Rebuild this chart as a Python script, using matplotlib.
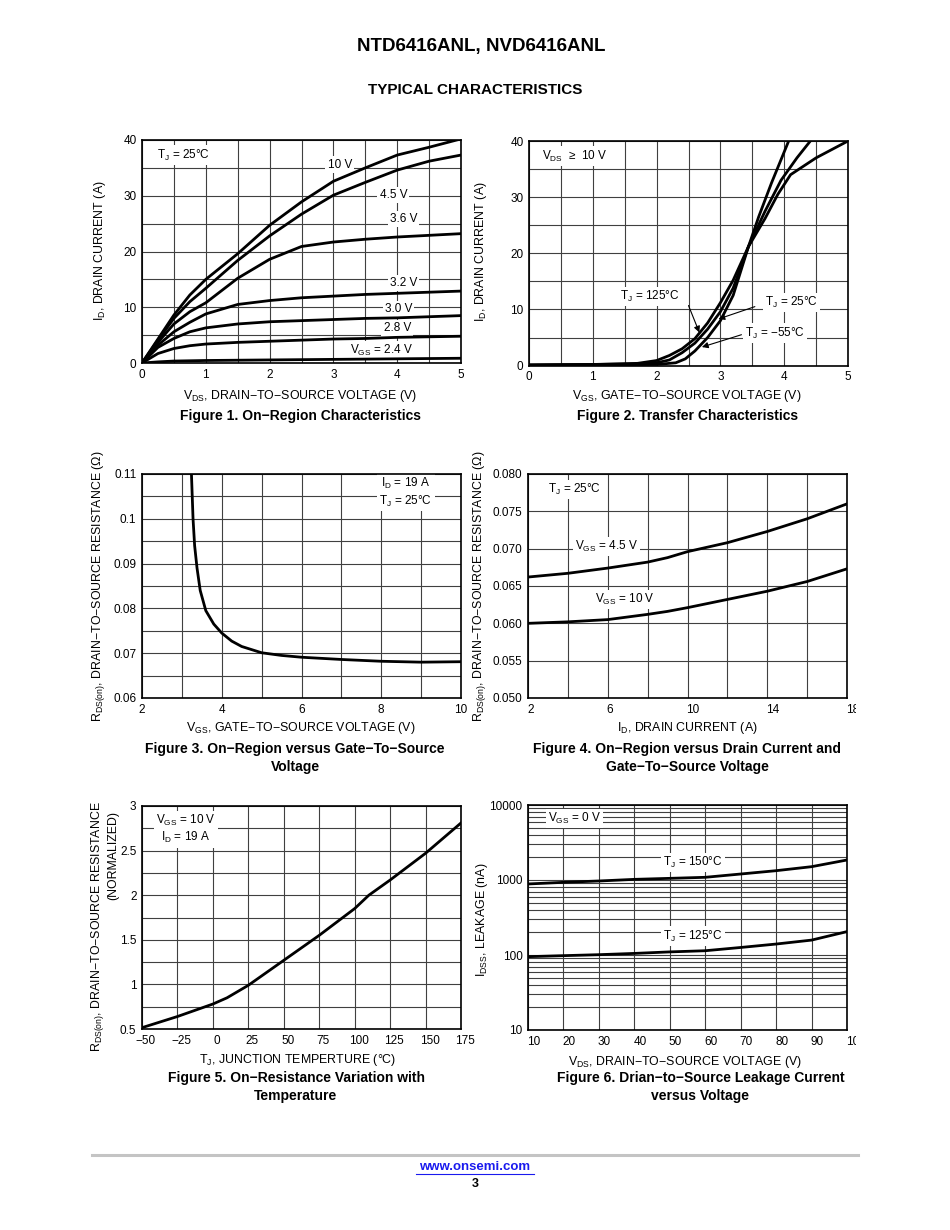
import matplotlib
matplotlib.use('Agg')
import matplotlib.pyplot as plt
from matplotlib.lines import Line2D
from matplotlib.patches import Rectangle
from matplotlib.transforms import ScaledTranslation
from matplotlib.ticker import NullFormatter

# ---- Figure 1: on-region characteristics ----
vds1 = [0, 0.25, 0.5, 0.75, 1, 1.5, 2, 2.5, 3, 3.5, 4, 4.5, 5]
id_10v = [0, 4.3, 8.6, 12.2, 15.0, 19.6, 24.7, 28.9, 32.6, 35.0, 37.3, 38.7, 40.2]
id_45v = [0, 4.1, 8.0, 11.0, 13.4, 18.4, 22.8, 26.7, 30.1, 32.4, 34.6, 36.2, 37.3]
id_36v = [0, 3.7, 7.0, 9.2, 10.8, 15.2, 18.6, 20.9, 21.7, 22.2, 22.6, 22.9, 23.2]
id_32v = [0, 3.2, 5.6, 7.3, 8.8, 10.5, 11.2, 11.7, 12.0, 12.3, 12.5, 12.7, 12.9]
id_30v = [0, 2.8, 4.4, 5.6, 6.3, 7.0, 7.4, 7.6, 7.8, 8.0, 8.1, 8.3, 8.5]
id_28v = [0, 1.7, 2.6, 3.1, 3.4, 3.7, 3.9, 4.1, 4.3, 4.4, 4.6, 4.7, 4.8]
id_24v = [0, 0.2, 0.35, 0.4, 0.45, 0.5, 0.55, 0.6, 0.65, 0.7, 0.75, 0.8, 0.85]

# ---- Figure 2: transfer characteristics ----
vgs_m55 = [0, 1, 2, 2.3, 2.45, 2.6, 2.8, 3.0, 3.2, 3.44, 3.6, 3.8, 4.07]
id_m55 = [0.1, 0.15, 0.2, 0.5, 1.2, 2.6, 5.0, 8.0, 12.5, 21.2, 26.5, 32.5, 40]
vgs_25 = [0, 1, 1.8, 2.0, 2.2, 2.4, 2.6, 2.8, 3.0, 3.2, 3.44, 3.7, 3.95, 4.2, 4.41]
id_25 = [0.1, 0.2, 0.3, 0.5, 1.0, 2.3, 4.0, 6.5, 9.6, 13.8, 21.2, 27.5, 33.0, 37.0, 40]
vgs_125 = [0, 1, 1.7, 2.0, 2.2, 2.4, 2.6, 2.8, 3.0, 3.2, 3.44, 3.7, 3.9, 4.1, 4.5, 5]
id_125 = [0.1, 0.2, 0.4, 0.9, 1.8, 3.0, 4.8, 7.6, 11.2, 15.2, 21.2, 26.2, 30.5, 34.0, 37.0, 40]

# ---- Figure 3: Rds(on) vs Vgs ----
vgs3 = [3.24, 3.28, 3.32, 3.38, 3.46, 3.6, 3.8, 4.0, 4.25, 4.5, 5, 5.5, 6, 7, 8, 9, 10]
rds3 = [0.110, 0.100, 0.094, 0.089, 0.084, 0.0795, 0.0765, 0.0745, 0.0727, 0.0715,
        0.0701, 0.0695, 0.0691, 0.0686, 0.0682, 0.0680, 0.0681]

# ---- Figure 4: Rds(on) vs Id ----
id4 = [2, 4, 6, 8, 9, 10, 12, 14, 16, 18]
rds_45v = [0.0662, 0.0667, 0.0674, 0.0682, 0.0688, 0.0696, 0.0708, 0.0723, 0.0740, 0.0760]
rds_10v = [0.0600, 0.0602, 0.0605, 0.0612, 0.0616, 0.0621, 0.0632, 0.0643, 0.0656, 0.0673]

# ---- Figure 5: normalized Rds(on) vs Tj ----
tj5 = [-50, -25, 0, 10, 25, 50, 75, 100, 110, 125, 150, 175]
rnorm5 = [0.515, 0.64, 0.78, 0.85, 0.99, 1.27, 1.55, 1.85, 2.0, 2.17, 2.47, 2.81]

# ---- Figure 6: leakage vs Vds ----
vds6 = [10, 20, 30, 40, 50, 60, 70, 80, 90, 100]
idss_150 = [885, 931, 970, 1020, 1052, 1086, 1202, 1331, 1505, 1848]
idss_125 = [95, 98, 101, 105, 110, 114, 126, 140, 158, 205]

W, H = 950, 1230
plt.rcParams['font.family'] = ['Liberation Sans', 'DejaVu Sans']
plt.rcParams['mathtext.fontset'] = 'custom'
plt.rcParams['mathtext.rm'] = 'Liberation Sans'
plt.rcParams['mathtext.it'] = 'Liberation Sans'
plt.rcParams['mathtext.bf'] = 'Liberation Sans:bold'
plt.rcParams['mathtext.default'] = 'rm'

fig = plt.figure(figsize=(W / 100, H / 100), dpi=100)
FS = 8.5      # tick labels / annotations
AFS = 8.9     # axis titles
GRID = '0.25'
white = dict(facecolor='white', edgecolor='none', pad=1.5)


def box(l, t, r, b):
    return fig.add_axes([l / W, 1 - b / H, (r - l) / W, (b - t) / H])


def ftext(x, y, s, **kw):
    kw.setdefault('ha', 'center')
    kw.setdefault('va', 'center')
    kw.setdefault('fontsize', AFS)
    fig.text(x / W, 1 - y / H, s, **kw)


def style(ax, xlim, ylim, xmaj, xlab, xmin, ymaj, ylab, ymin):
    ax.set_xlim(xlim)
    ax.set_ylim(ylim)
    ax.set_xticks(xmaj)
    ax.set_xticklabels(xlab)
    ax.set_xticks(xmin, minor=True)
    ax.set_yticks(ymaj)
    ax.set_yticklabels(ylab)
    ax.set_yticks(ymin, minor=True)
    ax.grid(True, which='both', color=GRID, lw=0.8)
    ax.set_axisbelow(True)
    ax.tick_params(which='both', length=0, labelsize=FS, pad=4)
    for s in ax.spines.values():
        s.set_linewidth(1.2)


def shift_xlabels(ax, dx, ha=None):
    off = ScaledTranslation(dx / 100, 0, fig.dpi_scale_trans)
    for t in ax.get_xticklabels():
        t.set_transform(t.get_transform() + off)
        if ha:
            t.set_ha(ha)


def label(ax, x, y, s, **kw):
    kw.setdefault('ha', 'center')
    kw.setdefault('va', 'center')
    ax.text(x, y, s, fontsize=FS, bbox=white, zorder=1, **kw)


curve = dict(color='black', lw=2.0, zorder=2)

# Figure 1
ax1 = box(142, 140, 461, 363)
style(ax1, (0, 5), (0, 40), [0, 1, 2, 3, 4, 5], ['0', '1', '2', '3', '4', '5'],
      [0.5, 1.5, 2.5, 3.5, 4.5], [0, 10, 20, 30, 40], ['0', '10', '20', '30', '40'],
      [5, 15, 25, 35])
for ys in [id_10v, id_45v, id_36v, id_32v, id_30v, id_28v, id_24v]:
    ax1.plot(vds1, ys, **curve)
label(ax1, 0.65, 37.3, 'T$_J$ = 25°C')
label(ax1, 3.1, 35.6, '10 V')
label(ax1, 3.94, 30.1, '4.5 V')
label(ax1, 4.1, 25.8, '3.6 V')
label(ax1, 4.1, 14.4, '3.2 V')
label(ax1, 4.02, 9.7, '3.0 V')
label(ax1, 4.0, 6.2, '2.8 V')
label(ax1, 3.76, 2.3, 'V$_{GS}$ = 2.4 V')

# Figure 2
ax2 = box(529, 141, 848, 365.6)
style(ax2, (0, 5), (0, 40), [0, 1, 2, 3, 4, 5], ['0', '1', '2', '3', '4', '5'],
      [0.5, 1.5, 2.5, 3.5, 4.5], [0, 10, 20, 30, 40], ['0', '10', '20', '30', '40'],
      [5, 15, 25, 35])
ax2.plot(vgs_m55, id_m55, **curve)
ax2.plot(vgs_25, id_25, **curve)
ax2.plot(vgs_125, id_125, **curve)
label(ax2, 0.72, 37.3, 'V$_{DS}$  ≥  10 V')
arrow = dict(arrowstyle='-|>', color='black', lw=0.8, mutation_scale=9,
             shrinkA=0, shrinkB=0)
label(ax2, 1.9, 12.3, 'T$_J$ = 125°C')
ax2.annotate('', xy=(2.67, 5.9), xytext=(2.5, 10.7), arrowprops=arrow)
label(ax2, 4.12, 11.2, 'T$_J$ = 25°C')
ax2.annotate('', xy=(2.97, 8.3), xytext=(3.54, 10.5), arrowprops=arrow)
label(ax2, 3.86, 5.8, 'T$_J$ = −55°C')
ax2.annotate('', xy=(2.71, 3.3), xytext=(3.33, 5.5), arrowprops=arrow)

# Figure 3
ax3 = box(142, 474, 461, 698)
style(ax3, (2, 10), (0.06, 0.11), [2, 4, 6, 8, 10], ['2', '4', '6', '8', '10'],
      [3, 5, 7, 9], [0.06, 0.07, 0.08, 0.09, 0.10, 0.11],
      ['0.06', '0.07', '0.08', '0.09', '0.1', '0.11'], [0.065, 0.075, 0.085, 0.095, 0.105])
ax3.plot(vgs3, rds3, **curve)
label(ax3, 8.62, 0.1058, 'I$_D$ = 19 A\nT$_J$ = 25°C', linespacing=1.25)

# Figure 4
ax4 = box(528, 474, 847, 698)
style(ax4, (2, 18), (0.05, 0.08), [2, 6, 10, 14, 18], ['2', '6', '10', '14', '18'],
      [4, 8, 12, 16], [0.05, 0.055, 0.06, 0.065, 0.07, 0.075, 0.08],
      ['0.050', '0.055', '0.060', '0.065', '0.070', '0.075', '0.080'], [])
ax4.plot(id4, rds_45v, **curve)
ax4.plot(id4, rds_10v, **curve)
label(ax4, 4.34, 0.0779, 'T$_J$ = 25°C')
label(ax4, 5.93, 0.0703, 'V$_{GS}$ = 4.5 V')
label(ax4, 6.85, 0.0632, 'V$_{GS}$ = 10 V')
shift_xlabels(ax4, -1, ha='left')

# Figure 5
ax5 = box(142, 806, 461, 1029)
style(ax5, (-50, 175), (0.5, 3),
      [-50, -25, 0, 25, 50, 75, 100, 125, 150, 175],
      ['−50', '−25', '0', '25', '50', '75', '100', '125', '150', '175'], [],
      [0.5, 1, 1.5, 2, 2.5, 3], ['0.5', '1', '1.5', '2', '2.5', '3'],
      [0.75, 1.25, 1.75, 2.25, 2.75])
ax5.plot(tj5, rnorm5, **curve)
label(ax5, -19, 2.74, 'V$_{GS}$ = 10 V\nI$_D$ = 19 A', linespacing=1.2)
shift_xlabels(ax5, 4)

# Figure 6
ax6 = box(528, 805, 847, 1030)
ax6.set_yscale('log')
minor6 = [m * d for d in (10, 100, 1000) for m in range(2, 10)]
style(ax6, (10, 100), (10, 10000), vds6,
      ['10', '20', '30', '40', '50', '60', '70', '80', '90', '100'], [],
      [10, 100, 1000, 10000], ['10', '100', '1000', '10000'], minor6)
ax6.yaxis.set_minor_formatter(NullFormatter())
ax6.plot(vds6, idss_150, **curve)
ax6.plot(vds6, idss_125, **curve)
label(ax6, 23.2, 6600, 'V$_{GS}$ = 0 V')
label(ax6, 56.5, 1700, 'T$_J$ = 150°C')
label(ax6, 56.5, 179, 'T$_J$ = 125°C')
shift_xlabels(ax6, -1, ha='left')

# the page crop cuts the last x tick labels on the right
for top in (700, 1032):
    fig.add_artist(Rectangle((856 / W, 1 - (top + 18) / H), 60 / W, 18 / H,
                             transform=fig.transFigure, facecolor='white',
                             edgecolor='none', zorder=10))

# axis labels
ftext(100, 251, 'I$_D$, DRAIN CURRENT (A)', rotation=90)
ftext(300, 396, 'V$_{DS}$, DRAIN−TO−SOURCE VOLTAGE (V)')
ftext(481, 252, 'I$_D$, DRAIN CURRENT (A)', rotation=90)
ftext(687, 396, 'V$_{GS}$, GATE−TO−SOURCE VOLTAGE (V)')
ftext(99, 586, 'R$_{DS(on)}$, DRAIN−TO−SOURCE RESISTANCE (Ω)', rotation=90)
ftext(301, 728, 'V$_{GS}$, GATE−TO−SOURCE VOLTAGE (V)')
ftext(480, 586, 'R$_{DS(on)}$, DRAIN−TO−SOURCE RESISTANCE (Ω)', rotation=90)
ftext(687, 728, 'I$_D$, DRAIN CURRENT (A)')
ftext(98, 927, 'R$_{DS(on)}$, DRAIN−TO−SOURCE RESISTANCE', rotation=90)
ftext(113, 855, '(NORMALIZED)', rotation=90)
ftext(298, 1060, 'T$_J$, JUNCTION TEMPERTURE (°C)')
ftext(482, 920, 'I$_{DSS}$, LEAKAGE (nA)', rotation=90)
ftext(685, 1062, 'V$_{DS}$, DRAIN−TO−SOURCE VOLTAGE (V)')

# captions
cap = dict(fontsize=10, fontweight='bold')
ftext(301, 416, 'Figure 1. On−Region Characteristics', **cap)
ftext(688, 416, 'Figure 2. Transfer Characteristics', **cap)
ftext(295, 749, 'Figure 3. On−Region versus Gate−To−Source', **cap)
ftext(295, 767, 'Voltage', **cap)
ftext(687, 749, 'Figure 4. On−Region versus Drain Current and', **cap)
ftext(687, 767, 'Gate−To−Source Voltage', **cap)
ftext(296, 1078, 'Figure 5. On−Resistance Variation with', **cap)
ftext(296, 1096, 'Temperature', **cap)
ftext(701, 1078, 'Figure 6. Drian−to−Source Leakage Current', **cap)
ftext(700, 1096, 'versus Voltage', **cap)

# page header / footer
ftext(481, 47, 'NTD6416ANL, NVD6416ANL', fontsize=13.5, fontweight='bold')
ftext(475, 90, 'TYPICAL CHARACTERISTICS', fontsize=11, fontweight='bold')
fig.add_artist(Line2D([92 / W, 858 / W], [1 - 1155 / H] * 2, color='#c4c4c4', lw=2.2))
ftext(475, 1167, 'www.onsemi.com', fontsize=9.5, fontweight='bold', color='#1a1aee')
fig.add_artist(Line2D([416 / W, 534 / W], [1 - 1174 / H] * 2, color='#1a1aee', lw=0.8))
ftext(475, 1184, '3', fontsize=9, fontweight='bold')

fig.savefig('out.png', dpi=100)
